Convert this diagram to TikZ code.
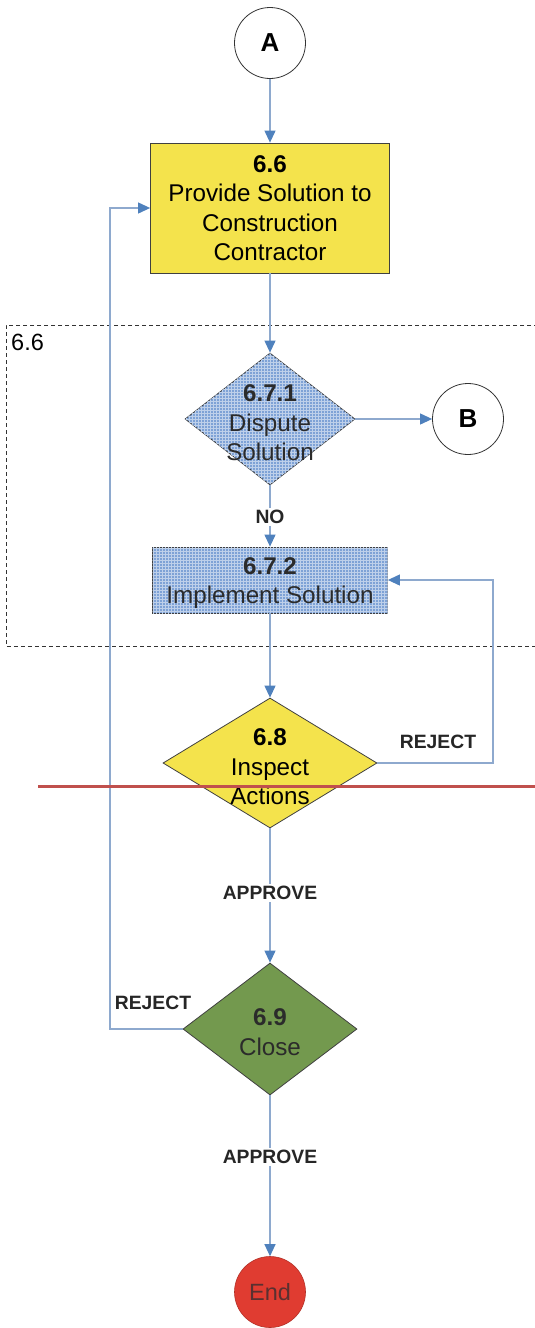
\documentclass[tikz,border=0pt]{standalone}
\usepackage{fontspec}
\setmainfont{Liberation Sans}
\usetikzlibrary{shapes.geometric,arrows.meta,patterns}
\definecolor{linec}{HTML}{8EA9CE}
\definecolor{tipc}{HTML}{4F81BD}
\definecolor{yellowf}{HTML}{F4E34C}
\definecolor{bluef}{HTML}{7EA2D6}
\definecolor{greenf}{HTML}{73994E}
\definecolor{redf}{HTML}{E03C31}
\definecolor{redline}{HTML}{C0504D}
\definecolor{darktext}{HTML}{2B2B2B}
\definecolor{endtext}{HTML}{5A3030}
\newcommand\bxfont{\fontsize{24.2}{29.5}\selectfont}
\newcommand\lblfont{\fontsize{19.3}{22}\selectfont\bfseries}
\begin{document}
\begin{tikzpicture}[x=1pt,y=-1pt,
  conn/.style={circle,draw=black!80,line width=0.8pt,fill=white,minimum size=71pt,inner sep=0pt,font=\fontsize{26}{30}\selectfont\bfseries},
  ybox/.style={rectangle,draw=black!75,line width=0.8pt,fill=yellowf,minimum width=239pt,minimum height=130pt,inner sep=0pt,align=center,font=\bxfont},
  bbox/.style={rectangle,draw=black!75,line width=0.8pt,fill=bluef,postaction={pattern=grid,pattern color=white!50!bluef},minimum width=235pt,minimum height=66pt,inner sep=0pt},
  dia/.style={diamond,draw=black!75,line width=0.8pt,inner sep=0pt},
  txt/.style={align=center,font=\bxfont,inner sep=0pt},
  flow/.style={draw=linec,line width=1.1pt,-{Triangle[length=12pt,width=11pt,color=tipc]}},
  lbl/.style={font=\lblfont,text=black!85,fill=white,inner sep=2pt},
  lblnf/.style={font=\lblfont,text=black!85,inner sep=2pt}
]
\useasboundingbox (0,0) rectangle (535,1328);
\fill[white] (0,0) rectangle (535,1328);

% dashed group
\coordinate (g1) at (545,325);
\coordinate (g2) at (6,325);
\coordinate (g3) at (6,646);
\coordinate (g4) at (545,646);
\draw[dashed,dash pattern=on 4pt off 3pt,black!80,line width=0.8pt] (g1) -- (g2) -- (g3) -- (g4);
\node[anchor=north west,inner sep=0pt,font=\fontsize{23.5}{27}\selectfont] (glabel) at (11,334) {6.6};

% nodes
\node[conn] (A) at (270,43) {A};
\node[ybox] (s66) at (270,208) {\textbf{6.6}\\Provide Solution to\\Construction\\Contractor};

\node[dia,fill=bluef,postaction={pattern=grid,pattern color=white!50!bluef},minimum width=170pt,minimum height=132pt] (d671) at (270,419) {};
\node[txt,text=darktext] (t671) at (270,423) {\textbf{6.7.1}\\Dispute\\Solution};

\node[conn] (B) at (468,419) {B};

\node[bbox] (r672) at (270,580) {};
\node[txt,text=darktext] (t672) at (270,583) {\textbf{6.7.2}\\Implement Solution};

\node[dia,fill=yellowf,minimum width=214pt,minimum height=130pt] (d68) at (270,763) {};
\node[txt,text=black] (t68) at (270,767) {\textbf{6.8}\\Inspect\\Actions};

\node[dia,fill=greenf,minimum width=174pt,minimum height=132pt] (d69) at (270,1029) {};
\node[txt,text=darktext] (t69) at (270,1032) {\textbf{6.9}\\Close};

\node[circle,draw=redf!80!black,line width=0.6pt,fill=redf,minimum size=71pt,inner sep=0pt,text=endtext,font=\fontsize{23.5}{27}\selectfont] (endn) at (270,1292) {End};

% connectors
\draw[flow] (A) -- (s66);
\draw[flow] (s66) -- (d671);
\draw[flow] (d671.east) -- (B.west);
\draw[flow] (d671) -- (r672);
\draw[flow] (r672) -- (d68);
\coordinate (k1) at (493,580);
\draw[flow] (d68.east) -| (k1) -- (r672.east);
\draw[flow] (d68) -- (d69);
\coordinate (k2) at (110,1029);
\draw[flow] (d69.west) -- (k2) |- (s66.west);
\draw[flow] (d69) -- (endn);

% red line
\coordinate (rl1) at (38,786);
\coordinate (rl2) at (535,786);
\draw[redline,line width=3pt] (rl1) -- (rl2);

% labels
\node[lbl] (lno) at (270,517) {NO};
\node[lblnf] (lrej1) at (438,742) {REJECT};
\node[lbl] (lapp1) at (270,893) {APPROVE};
\node[lblnf] (lrej2) at (153,1003) {REJECT};
\node[lbl] (lapp2) at (270,1157) {APPROVE};
\end{tikzpicture}
\end{document}
